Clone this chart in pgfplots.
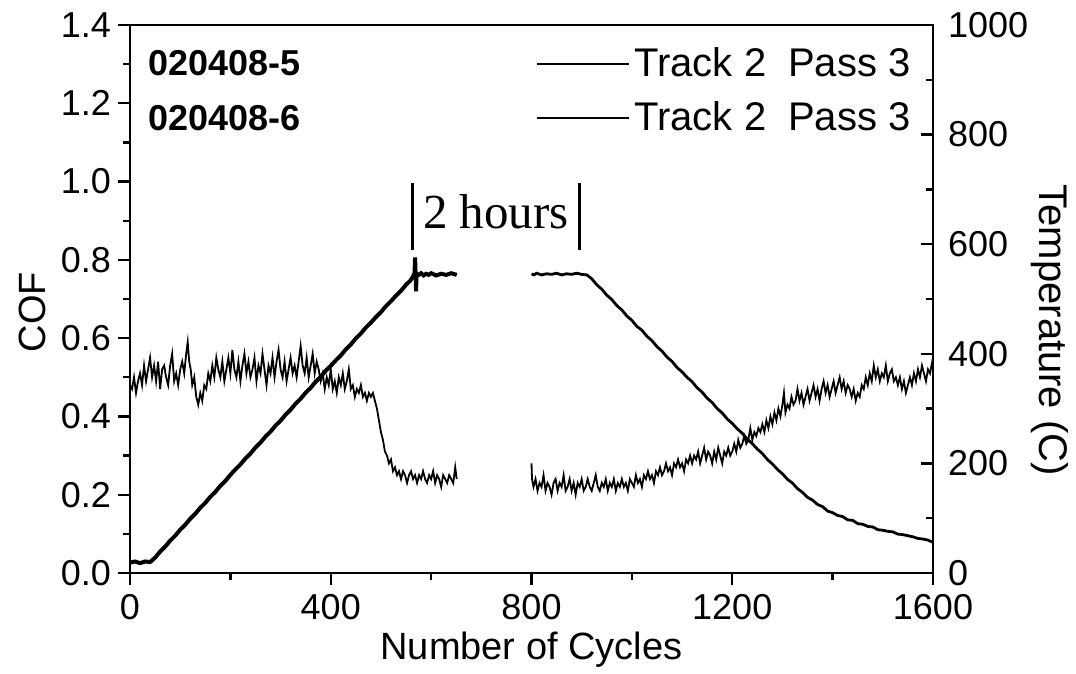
\documentclass[border=0pt]{standalone}
\usepackage{fontspec}
\setmainfont{Liberation Sans}
\newfontfamily\timesfont{Liberation Serif}
\usepackage{pgfplots}
\pgfplotsset{compat=1.18}

\begin{document}
\begin{tikzpicture}
\pgfplotsset{
  twin/.style={
    width=401.5pt, height=274pt, scale only axis,
    xmin=0, xmax=1600,
    /pgf/number format/assume math mode=true,
    /pgf/number format/1000 sep={},
    tick style={line width=1.2pt, black},
    major tick length=6pt, minor tick length=3.5pt,
    axis line style={line width=1.2pt},
    ticklabel style={font=\fontsize{18}{20}\selectfont},
  },
}
% COF (left axis)
\begin{axis}[twin, name=main,
  ymin=0, ymax=1.4,
  xtick={0,400,800,1200,1600}, minor xtick={200,600,1000,1400},
  ytick={0,0.2,0.4,0.6,0.8,1.0,1.2,1.4},
  minor ytick={0.1,0.3,0.5,0.7,0.9,1.1,1.3},
  yticklabel style={/pgf/number format/.cd, fixed, fixed zerofill, precision=1},
  xticklabel style={yshift=-1pt},
  tick align=outside, tick pos=left,
  xlabel={Number of Cycles}, ylabel={COF},
  xlabel style={font=\fontsize{19}{22}\selectfont, at={(axis description cs:0.5,0)}, anchor=center, yshift=-38.5pt},
  ylabel style={font=\fontsize{19}{22}\selectfont, at={(axis description cs:0,0.476)}, anchor=center, yshift=49pt},
]
\addplot[black, line width=0.9pt] coordinates {
(0,0.48)(4,0.47)(8,0.50)(12,0.46)(16,0.49)(20,0.51)(24,0.48)(28,0.53)(32,0.49)(36,0.52)
(40,0.55)(44,0.50)(48,0.53)(52,0.49)(56,0.54)(60,0.47)(64,0.52)(68,0.53)(72,0.50)(76,0.48)
(80,0.53)(84,0.56)(88,0.49)(92,0.51)(96,0.48)(100,0.52)(104,0.54)(108,0.51)(112,0.56)(115,0.59)
(118,0.54)(121,0.52)(124,0.48)(128,0.50)(132,0.45)(136,0.43)(140,0.46)(144,0.44)(148,0.48)(152,0.47)
(156,0.51)(160,0.49)(164,0.53)(168,0.50)(172,0.55)(176,0.52)(180,0.50)(184,0.54)(188,0.49)(192,0.52)
(196,0.55)(200,0.51)(204,0.57)(208,0.52)(212,0.50)(216,0.54)(220,0.49)(224,0.53)(228,0.56)(232,0.51)
(236,0.54)(240,0.50)(244,0.52)(248,0.55)(252,0.49)(256,0.53)(260,0.51)(264,0.56)(268,0.52)(272,0.48)
(276,0.53)(280,0.51)(284,0.55)(288,0.50)(292,0.54)(296,0.57)(300,0.52)(304,0.50)(308,0.54)(312,0.49)
(316,0.52)(320,0.55)(324,0.51)(328,0.53)(332,0.50)(336,0.54)(340,0.58)(344,0.53)(348,0.51)(352,0.55)
(356,0.50)(360,0.53)(364,0.56)(368,0.51)(372,0.54)(376,0.52)(380,0.49)(384,0.51)(388,0.47)(392,0.50)
(396,0.48)(400,0.52)(404,0.47)(408,0.49)(412,0.46)(416,0.50)(420,0.48)(424,0.51)(428,0.47)(432,0.49)
(436,0.52)(440,0.47)(444,0.48)(448,0.45)(452,0.47)(456,0.46)(460,0.48)(464,0.45)(468,0.46)(472,0.44)
(476,0.46)(480,0.45)(484,0.46)(488,0.44)(492,0.42)(496,0.39)(500,0.36)(504,0.34)(508,0.31)(512,0.30)
(516,0.28)(520,0.29)(524,0.26)(528,0.27)(532,0.25)(536,0.26)(540,0.24)(544,0.26)(548,0.25)(552,0.23)
(556,0.25)(560,0.26)(564,0.24)(568,0.25)(572,0.23)(576,0.25)(580,0.24)(584,0.26)(588,0.24)(592,0.23)
(596,0.25)(600,0.24)(604,0.26)(608,0.23)(612,0.25)(616,0.24)(620,0.22)(624,0.25)(628,0.24)(632,0.23)
(636,0.25)(640,0.24)(644,0.23)(648,0.27)(651,0.24)
};
\addplot[black, line width=0.9pt] coordinates {
(800,0.28)(801,0.24)(804,0.22)(808,0.24)(812,0.21)(816,0.23)(820,0.22)(824,0.25)(828,0.21)(832,0.23)
(836,0.22)(840,0.20)(844,0.23)(848,0.24)(852,0.21)(856,0.23)(860,0.22)(864,0.25)(868,0.21)(872,0.22)
(876,0.24)(880,0.21)(884,0.23)(888,0.20)(892,0.23)(896,0.22)(900,0.24)(904,0.21)(908,0.22)(912,0.24)
(916,0.22)(920,0.21)(924,0.23)(928,0.25)(932,0.22)(936,0.21)(940,0.23)(944,0.22)(948,0.24)(952,0.21)
(956,0.23)(960,0.22)(964,0.24)(968,0.21)(972,0.23)(976,0.22)(980,0.24)(984,0.22)(988,0.23)(992,0.21)
(996,0.24)(1000,0.23)(1004,0.22)(1008,0.25)(1012,0.23)(1016,0.24)(1020,0.22)(1024,0.25)(1028,0.24)(1032,0.26)
(1036,0.24)(1040,0.25)(1044,0.23)(1048,0.26)(1052,0.25)(1056,0.27)(1060,0.25)(1064,0.26)(1068,0.28)(1072,0.26)
(1076,0.27)(1080,0.25)(1084,0.28)(1088,0.27)(1092,0.29)(1096,0.27)(1100,0.28)(1104,0.26)(1108,0.29)(1112,0.28)
(1116,0.30)(1120,0.28)(1124,0.30)(1128,0.29)(1132,0.31)(1136,0.28)(1140,0.30)(1144,0.32)(1148,0.29)(1152,0.31)
(1156,0.30)(1160,0.28)(1164,0.31)(1168,0.29)(1172,0.32)(1176,0.30)(1180,0.28)(1184,0.31)(1188,0.30)(1192,0.32)
(1196,0.30)(1200,0.31)(1204,0.33)(1208,0.31)(1212,0.34)(1216,0.32)(1220,0.33)(1224,0.35)(1228,0.33)(1232,0.34)
(1236,0.37)(1240,0.34)(1244,0.36)(1248,0.35)(1252,0.37)(1256,0.36)(1260,0.38)(1264,0.36)(1268,0.39)(1272,0.37)
(1276,0.40)(1280,0.38)(1284,0.41)(1288,0.39)(1292,0.42)(1296,0.40)(1300,0.43)(1303,0.46)(1306,0.41)(1310,0.43)
(1314,0.42)(1318,0.45)(1322,0.43)(1326,0.44)(1330,0.47)(1334,0.44)(1338,0.46)(1342,0.43)(1346,0.45)(1350,0.47)
(1354,0.44)(1358,0.46)(1362,0.48)(1366,0.45)(1370,0.47)(1374,0.44)(1378,0.47)(1382,0.49)(1386,0.46)(1390,0.48)
(1394,0.45)(1398,0.47)(1402,0.49)(1406,0.46)(1410,0.48)(1414,0.50)(1418,0.47)(1422,0.49)(1426,0.46)(1430,0.48)
(1434,0.47)(1438,0.45)(1442,0.47)(1446,0.44)(1450,0.46)(1454,0.45)(1458,0.48)(1462,0.47)(1466,0.50)(1470,0.48)
(1474,0.51)(1478,0.49)(1482,0.53)(1486,0.50)(1490,0.52)(1494,0.49)(1498,0.51)(1502,0.50)(1506,0.53)(1510,0.49)
(1514,0.51)(1518,0.52)(1522,0.49)(1526,0.50)(1530,0.48)(1534,0.50)(1538,0.47)(1542,0.49)(1546,0.46)(1550,0.48)
(1554,0.50)(1558,0.48)(1562,0.51)(1566,0.49)(1570,0.52)(1574,0.50)(1578,0.53)(1582,0.51)(1586,0.49)(1590,0.52)
(1594,0.51)(1597,0.53)(1600,0.55)
};
% two-hour dwell marker
\draw[line width=1.5pt] (axis cs:562,0.825) -- (axis cs:562,0.996);
\draw[line width=1.5pt] (axis cs:896,0.825) -- (axis cs:896,0.996);
\node[font=\timesfont\fontsize{24.5}{26}\selectfont, anchor=base] at (axis cs:729,0.881) {2 hours};
\node[anchor=west, inner sep=0pt, font=\bfseries\fontsize{18}{20}\selectfont] at (axis cs:36,1.303) {020408-5};
\node[anchor=west, inner sep=0pt, font=\bfseries\fontsize{18}{20}\selectfont] at (axis cs:36,1.1625) {020408-6};
\end{axis}
% Temperature (right axis)
\begin{axis}[twin, clip=false,
  ymin=0, ymax=1000,
  axis x line=none, axis y line*=right,
  ytick={0,200,400,600,800,1000}, minor ytick={100,300,500,700,900},
  tick align=inside,
  yticklabel style={xshift=4pt},
  legend style={draw=none, fill=none, at={(rel axis cs:0.985,0.974)}, anchor=north east,
    font=\fontsize{20}{22}\selectfont, row sep=7pt, nodes={inner sep=2pt}},
  legend cell align=left,
  legend image code/.code={\draw[#1] (0pt,0pt) -- (46pt,0pt);},
]
\addlegendimage{black, line width=1pt}
\addlegendentry{Track 2\hspace{0.55em}Pass 3}
\addlegendimage{black, line width=1pt}
\addlegendentry{Track 2\hspace{0.55em}Pass 3}
\addplot[black, line width=2pt, forget plot] coordinates {
(0,19)(10,21)(20,18)(30,21)(40,20)(50,28)(60,39)(70,48)(80,59)(90,68)(100,79)(110,88)(120,99)(130,108)
(140,119)(150,128)(160,139)(170,148)(180,159)(190,168)(200,179)(210,189)(220,198)(230,209)(240,218)
(250,229)(260,238)(270,249)(280,258)(290,269)(300,278)(310,289)(320,298)(330,309)(340,318)(350,329)
(360,338)(370,349)(380,358)(390,369)(400,378)(410,388)(420,397)(430,408)(440,417)(450,428)(460,437)
(470,448)(480,457)(490,467)(500,476)(510,487)(520,496)(530,506)(540,515)(550,526)(558,533)(564,541)
(567,548)(568,576)(569,548)(570,514)(571,546)(575,544)(580,547)(585,543)(590,546)(595,544)(600,547)
(610,543)(620,546)(630,544)(640,547)(651,544)
};
\addplot[black, line width=1.4pt, forget plot] coordinates {
(800,546)(805,544)(810,547)(820,544)(830,546)(840,545)(850,547)(860,544)(870,546)(880,545)(890,547)
(900,545)(910,544)(920,537)(930,526)(940,518)(950,507)(960,499)(970,488)(980,480)(990,469)(1000,461)
(1010,450)(1020,443)(1030,432)(1040,424)(1050,413)(1060,405)(1070,394)(1080,386)(1090,375)(1100,367)
(1110,357)(1120,349)(1130,338)(1140,330)(1150,319)(1160,311)(1170,300)(1180,292)(1190,281)(1200,273)
(1210,263)(1220,255)(1230,244)(1240,236)(1250,226)(1260,218)(1270,207)(1280,199)(1290,189)(1300,181)
(1310,171)(1320,164)(1330,154)(1340,147)(1350,138)(1360,133)(1370,125)(1380,121)(1390,113)(1400,110)
(1410,105)(1420,103)(1430,97)(1440,96)(1450,90)(1460,89)(1470,85)(1480,84)(1490,79)(1500,78)
(1510,76)(1520,75)(1530,71)(1540,70)(1550,68)(1560,66)(1570,63)(1580,62)(1590,60)(1600,56)
};
\node[rotate=-90, yshift=58.5pt, anchor=center, font=\fontsize{20}{22}\selectfont] at (rel axis cs:1,0.443) {Temperature (C)};
\end{axis}
\pgfresetboundingbox
\path[use as bounding box] ([xshift=-65pt,yshift=-50.5pt]main.south west) rectangle ([xshift=473pt,yshift=286.5pt]main.south west);
\end{tikzpicture}
\end{document}
